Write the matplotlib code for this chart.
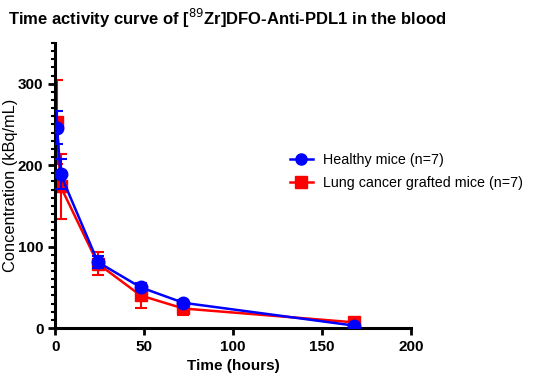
import numpy as np
import matplotlib.pyplot as plt
from matplotlib.ticker import MultipleLocator
from matplotlib.lines import Line2D

plt.rcParams['font.family'] = ['Liberation Sans', 'DejaVu Sans']

# data
time_h = [1, 3, 24, 48, 72, 168]
healthy = [246, 189, 81, 50, 31, 3]
healthy_sd = [20, 18, 7, 5, 3, 2]
lung = [253, 174, 79, 40, 24, 7]
lung_sd = [52, 40, 14, 15, 8, 3]
labels = ['Healthy mice (n=7)', 'Lung cancer grafted mice (n=7)']

fig = plt.figure(figsize=(5.36, 3.81), dpi=100)
ax = fig.add_axes([0.103, 0.139, 0.664, 0.748])

ax.errorbar(time_h, lung, yerr=lung_sd, color='#ff0000', marker='s', ms=8,
            lw=1.8, elinewidth=1.5, capsize=4, capthick=1.5, zorder=2)
ax.errorbar(time_h, healthy, yerr=healthy_sd, color='#0000ff', marker='o', ms=9,
            lw=1.8, elinewidth=1.5, capsize=4, capthick=1.5, zorder=3)

ax.set_xlim(0, 200)
ax.set_ylim(0, 350)
ax.set_xticks([0, 50, 100, 150, 200])
ax.set_yticks([0, 100, 200, 300])
ax.yaxis.set_minor_locator(MultipleLocator(10))

for s in ['top', 'right']:
    ax.spines[s].set_visible(False)
for s in ['left', 'bottom']:
    ax.spines[s].set_linewidth(2.2)
ax.tick_params(which='major', length=5, width=2, labelsize=11)
ax.tick_params(which='minor', length=3, width=1.5)
for lab in ax.get_xticklabels() + ax.get_yticklabels():
    lab.set_fontweight('bold')

ax.set_xlabel('Time (hours)', fontsize=11, fontweight='bold')
ax.set_ylabel('Concentration (kBq/mL)', fontsize=11.8)
ax.yaxis.set_label_coords(-0.105, 0.5)

fig.text(0.015, 0.935, 'Time activity curve of [$^{89}$Zr]DFO-Anti-PDL1 in the blood',
         fontsize=12, fontweight='bold')

handles = [Line2D([], [], color='#0000ff', marker='o', ms=8, lw=1.8),
           Line2D([], [], color='#ff0000', marker='s', ms=8, lw=1.8)]
fig.legend(handles, labels, loc='center left', bbox_to_anchor=(0.53, 0.55),
           frameon=False, fontsize=10.3, handlelength=1.6, borderaxespad=0,
           labelspacing=0.6, handletextpad=0.7)

fig.savefig('out.png', dpi=100)
